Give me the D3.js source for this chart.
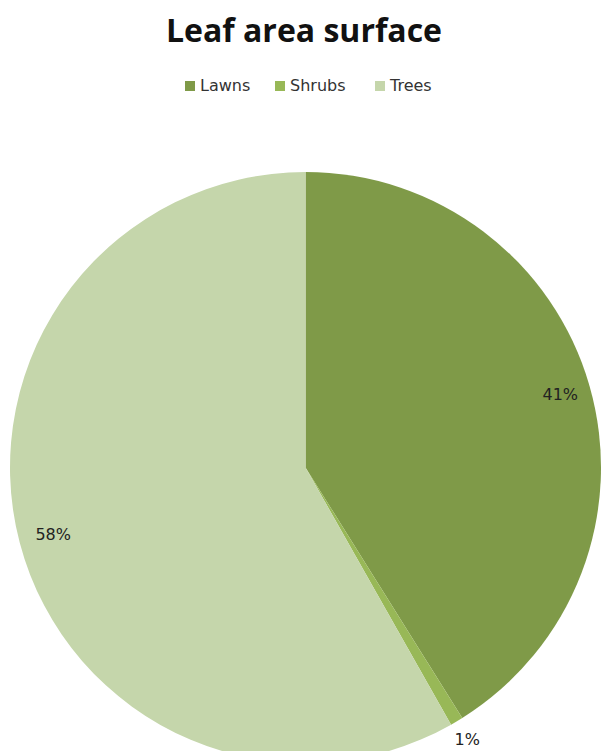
<!DOCTYPE html>
<html>
<head>
<meta charset="utf-8">
<script src="https://cdn.jsdelivr.net/npm/d3@7"></script>
<style>
  body { margin: 0; background: #fff; }
  svg { display: block; }
</style>
</head>
<body>
<svg id="chart" width="602" height="751"></svg>
<script>
// leaf area surface shares (percent)
const categories = ["Lawns", "Shrubs", "Trees"];
const values = [41.1, 0.7, 58.2];
const labels = ["41%", "1%", "58%"];
const colors = ["#7f9a48", "#98b857", "#c5d6ab"];

const width = 602, height = 751;
const cx = 305.5, cy = 467.5, radius = 295.5;

const svg = d3.select("#chart");

svg.append("text")
    .attr("x", 304)
    .attr("y", 42)
    .attr("text-anchor", "middle")
    .style("font-family", "'Open Sans', sans-serif")
    .style("font-weight", "bold")
    .style("font-size", "32px")
    .style("fill", "#111")
    .text("Leaf area surface");

// legend
const legendX = [185, 275, 375];
const legend = svg.append("g").selectAll("g")
    .data(categories)
    .join("g")
    .attr("transform", (d, i) => `translate(${legendX[i]},86)`);
legend.append("rect")
    .attr("x", 0).attr("y", -5)
    .attr("width", 10).attr("height", 10)
    .attr("fill", (d, i) => colors[i]);
legend.append("text")
    .attr("x", 15).attr("y", 5)
    .style("font-family", "'DejaVu Sans', sans-serif")
    .style("font-size", "16px")
    .style("fill", "#333")
    .text(d => d);

const pie = d3.pie().sort(null).value(d => d);
const arc = d3.arc().innerRadius(0).outerRadius(radius);

const arcs = pie(values);
const g = svg.append("g").attr("transform", `translate(${cx},${cy})`);

g.selectAll("path")
    .data(arcs)
    .join("path")
    .attr("d", arc)
    .attr("fill", (d, i) => colors[i]);

// label placement: inside near edge for big slices, outside for tiny one
const labelR = [radius * 0.897, radius * 1.069, radius * 0.883];
g.selectAll("text.lbl")
    .data(arcs)
    .join("text")
    .attr("class", "lbl")
    .attr("transform", (d, i) => {
        let c = d3.arc().innerRadius(labelR[i]).outerRadius(labelR[i]).centroid(d);
        return `translate(${c})`;
    })
    .attr("text-anchor", "middle")
    .attr("dy", "0.36em")
    .style("font-family", "'DejaVu Sans', sans-serif")
    .style("font-size", "16px")
    .style("fill", "#222")
    .text((d, i) => labels[i]);
</script>
</body>
</html>
